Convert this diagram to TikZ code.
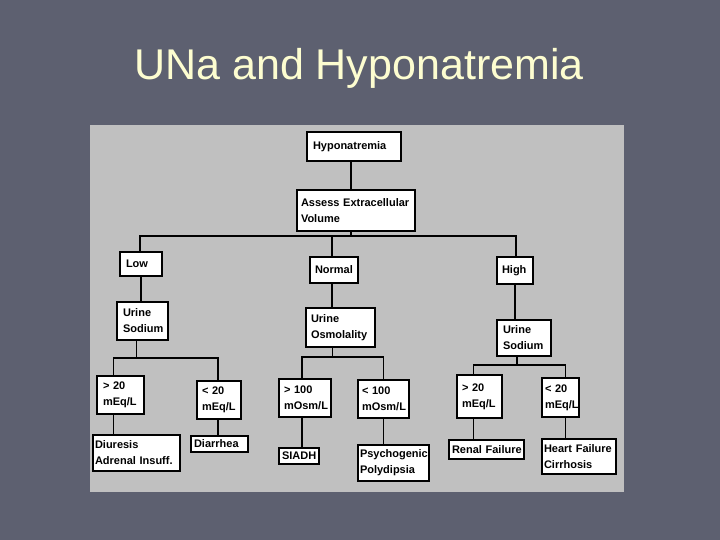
\documentclass[tikz,border=0pt]{standalone}
\usepackage{fontspec}
\setmainfont{Liberation Sans}
\usepackage{xcolor}
\usetikzlibrary{positioning, calc}

\definecolor{slidebg}{RGB}{93,96,112}
\definecolor{panelgray}{RGB}{192,192,192}
\definecolor{titlecream}{RGB}{253,253,208}

\begin{document}
\begin{tikzpicture}[
    x=1pt, y=-1pt,
    box/.style={rectangle, draw=black, fill=white, line width=1.4pt, align=left, inner xsep=6pt, inner ysep=2pt,
        font=\fontsize{11}{16}\selectfont\bfseries,
        execute at begin node={\hyphenpenalty=10000\exhyphenpenalty=10000\hbadness=10000\hfuzz=20pt}},
    link/.style={line width=1.4pt, draw=black},
    heading/.style={font=\fontsize{43}{46}\selectfont, text=titlecream, anchor=base}
]

% slide background and scanned panel
\fill[slidebg] (0,0) rectangle (720,540);
\useasboundingbox (0,0) rectangle (720,540);
\fill[panelgray] (90,125) rectangle (624,492);

\node[heading] (title) at (359,80) {UNa and Hyponatremia};

% top of the tree
\node[box, text width=82pt, minimum height=29pt] (hypo) at (354,146.5) {Hyponatremia};
\node[box, text width=110pt, minimum height=41pt, inner xsep=4pt] (assess) at (356,210.5) {Assess~Extracellular\\Volume};

% volume status
\node[box, text width=30pt, minimum height=24pt] (low) at (141,264) {Low};
\node[box, text width=38pt, minimum height=26pt, inner xsep=5pt] (normal) at (334,270) {Normal};
\node[box, text width=26pt, minimum height=27pt, inner xsep=5pt] (high) at (515,270.5) {High};

% urine tests
\node[box, text width=39pt, minimum height=38pt] (usl) at (142.5,321) {Urine\\Sodium};
\node[box, text width=59pt, minimum height=39pt, inner xsep=5pt] (osm) at (340.5,327.5) {Urine\\Osmolality};
\node[box, text width=42pt, minimum height=36pt] (ush) at (524,338) {Urine\\Sodium};

% results
\node[box, text width=35pt, minimum height=38pt] (gtl) at (120.5,395) {>~20\\mEq/L};
\node[box, text width=34pt, minimum height=38pt, inner xsep=5pt] (ltl) at (219,400) {<~20\\mEq/L};
\node[box, text width=42pt, minimum height=38pt, inner xsep=5pt] (gto) at (305,398) {>~100\\mOsm/L};
\node[box, text width=43pt, minimum height=38pt, inner xsep=4pt] (lto) at (383.5,399) {<~100\\mOsm/L};
\node[box, text width=35pt, minimum height=43pt, inner xsep=5pt] (gtr) at (479.5,396.5) {>~20\\mEq/L};
\node[box, text width=31pt, minimum height=39pt, inner xsep=3pt] (ltr) at (560.5,397.5) {<~20\\mEq/L};

% diagnoses
\node[box, text width=83pt, minimum height=36pt, inner xsep=2pt] (diu) at (136.5,453) {Diuresis\\Adrenal~Insuff.};
\node[box, text width=51pt, minimum height=16pt, inner xsep=3pt] (dia) at (219.5,444) {Diarrhea};
\node[box, text width=34pt, minimum height=16pt, inner xsep=3pt] (sia) at (299,456) {SIADH};
\node[box, text width=67pt, minimum height=36pt, inner xsep=2pt] (psy) at (393.5,463) {Psychogenic\\Polydipsia};
\node[box, text width=69pt, minimum height=19pt, inner xsep=3pt] (ren) at (486.5,449.5) {Renal~Failure};
\node[box, text width=70pt, minimum height=35pt, inner xsep=2pt] (hea) at (579,456.5) {Heart~Failure\\Cirrhosis};

% bar heights
\coordinate (topbar) at (0,236);
\coordinate (lbar) at (0,358);
\coordinate (mbar) at (0,357);
\coordinate (rbar) at (0,365);

% connectors
\draw[link] ([xshift=-3pt]hypo.south) -- ([xshift=-3pt]hypo.south |- assess.north);
\draw[link] ([xshift=-5pt]assess.south) -- ([xshift=-5pt]assess.south |- topbar);
\draw[link] ([xshift=-1pt]low.north) |- ([xshift=1pt]high.north |- topbar) -- ([xshift=1pt]high.north);
\draw[link] ([xshift=-2pt]normal.north) -- ([xshift=-2pt]normal.north |- topbar);

\draw[link] (low.south) -- (low.south |- usl.north);
\draw[link] ([xshift=-2pt]normal.south) -- ([xshift=-2pt]normal.south |- osm.north);
\draw[link] (high.south) -- (high.south |- ush.north);

% left branch
\draw[link] ([xshift=-6pt]usl.south) -- ([xshift=-6pt]usl.south |- lbar);
\draw[link] ([xshift=-7pt]gtl.north) |- ([xshift=-1pt]ltl.north |- lbar) -- ([xshift=-1pt]ltl.north);
\draw[link] ([xshift=-7pt]gtl.south) -- ([xshift=-7pt]gtl.south |- diu.north);
\draw[link] ([xshift=-1pt]ltl.south) -- ([xshift=-1pt]ltl.south |- dia.north);

% middle branch
\draw[link] ([xshift=-8pt]osm.south) -- ([xshift=-8pt]osm.south |- mbar);
\draw[link] ([xshift=-3pt]gto.north) |- (lto.north |- mbar) -- (lto.north);
\draw[link] ([xshift=-3pt]gto.south) -- ([xshift=-3pt]gto.south |- sia.north);
\draw[link] (lto.south) -- (lto.south |- psy.north);

% right branch
\draw[link] ([xshift=-7pt]ush.south) -- ([xshift=-7pt]ush.south |- rbar);
\draw[link] ([xshift=-6pt]gtr.north) |- ([xshift=5pt]ltr.north |- rbar) -- ([xshift=5pt]ltr.north);
\draw[link] ([xshift=-6pt]gtr.south) -- ([xshift=-6pt]gtr.south |- ren.north);
\draw[link] ([xshift=5pt]ltr.south) -- ([xshift=5pt]ltr.south |- hea.north);

\end{tikzpicture}
\end{document}
